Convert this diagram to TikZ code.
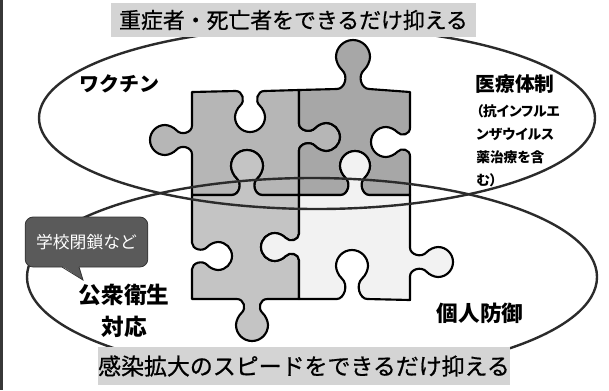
\documentclass[tikz,border=0pt]{standalone}
\usepackage{fontspec}
\newfontfamily\jp{Noto Sans CJK JP}
\newfontfamily\jpheavy[FakeBold=0.7]{Noto Sans CJK JP}
\newfontfamily\jpprop[RawFeature=+palt]{Noto Sans CJK JP}
\definecolor{bandgray}{HTML}{D4D4D4}
\definecolor{ringline}{HTML}{2B2B2B}
\definecolor{pieceTL}{HTML}{B6B6B6}
\definecolor{pieceTR}{HTML}{A7A7A7}
\definecolor{pieceBL}{HTML}{C4C4C4}
\definecolor{pieceBR}{HTML}{F2F2F2}
\definecolor{calloutgray}{HTML}{5A5A5A}

% jigsaw tab on a horizontal edge: centre x, edge y, travel dir (+1 right), bulge (+1 down), head radius, head-centre offset
\newcommand\htab[6]{%
 -- ({#1+(#3)*(-0.95*(#5))},{#2})
 .. controls ({#1+(#3)*(-0.5*(#5))},{#2})
         and ({#1+(#3)*(-0.66*(#5)+0.375*((#6)-0.75*(#5)))},{#2+(#4)*(0.67*((#6)-0.75*(#5)))})
 .. ({#1+(#3)*(-0.66*(#5))},{#2+(#4)*((#6)-0.75*(#5))})
 .. controls ({#1+(#3)*(-0.84*(#5))},{#2+(#4)*((#6)-0.59*(#5))})
         and ({#1+(#3)*(-(#5))},{#2+(#4)*((#6)-0.242*(#5))})
 .. ({#1+(#3)*(-(#5))},{#2+(#4)*(#6)})
 .. controls ({#1+(#3)*(-(#5))},{#2+(#4)*((#6)+0.552*(#5))})
         and ({#1+(#3)*(-0.552*(#5))},{#2+(#4)*((#6)+(#5))})
 .. ({#1},{#2+(#4)*((#6)+(#5))})
 .. controls ({#1+(#3)*(0.552*(#5))},{#2+(#4)*((#6)+(#5))})
         and ({#1+(#3)*(#5)},{#2+(#4)*((#6)+0.552*(#5))})
 .. ({#1+(#3)*(#5)},{#2+(#4)*(#6)})
 .. controls ({#1+(#3)*(#5)},{#2+(#4)*((#6)-0.242*(#5))})
         and ({#1+(#3)*(0.84*(#5))},{#2+(#4)*((#6)-0.59*(#5))})
 .. ({#1+(#3)*(0.66*(#5))},{#2+(#4)*((#6)-0.75*(#5))})
 .. controls ({#1+(#3)*(0.66*(#5)-0.375*((#6)-0.75*(#5)))},{#2+(#4)*(0.67*((#6)-0.75*(#5)))})
         and ({#1+(#3)*(0.5*(#5))},{#2})
 .. ({#1+(#3)*(0.95*(#5))},{#2})
}
% the same tab on a vertical edge: edge x, centre y, travel dir (+1 down), bulge (+1 right), radius, offset
\newcommand\vtab[6]{%
 -- ({#1},{#2+(#3)*(-0.95*(#5))})
 .. controls ({#1},{#2+(#3)*(-0.5*(#5))})
         and ({#1+(#4)*(0.67*((#6)-0.75*(#5)))},{#2+(#3)*(-0.66*(#5)+0.375*((#6)-0.75*(#5)))})
 .. ({#1+(#4)*((#6)-0.75*(#5))},{#2+(#3)*(-0.66*(#5))})
 .. controls ({#1+(#4)*((#6)-0.59*(#5))},{#2+(#3)*(-0.84*(#5))})
         and ({#1+(#4)*((#6)-0.242*(#5))},{#2+(#3)*(-(#5))})
 .. ({#1+(#4)*(#6)},{#2+(#3)*(-(#5))})
 .. controls ({#1+(#4)*((#6)+0.552*(#5))},{#2+(#3)*(-(#5))})
         and ({#1+(#4)*((#6)+(#5))},{#2+(#3)*(-0.552*(#5))})
 .. ({#1+(#4)*((#6)+(#5))},{#2})
 .. controls ({#1+(#4)*((#6)+(#5))},{#2+(#3)*(0.552*(#5))})
         and ({#1+(#4)*((#6)+0.552*(#5))},{#2+(#3)*(#5)})
 .. ({#1+(#4)*(#6)},{#2+(#3)*(#5)})
 .. controls ({#1+(#4)*((#6)-0.242*(#5))},{#2+(#3)*(#5)})
         and ({#1+(#4)*((#6)-0.59*(#5))},{#2+(#3)*(0.84*(#5))})
 .. ({#1+(#4)*((#6)-0.75*(#5))},{#2+(#3)*(0.66*(#5))})
 .. controls ({#1+(#4)*(0.67*((#6)-0.75*(#5)))},{#2+(#3)*(0.66*(#5)-0.375*((#6)-0.75*(#5)))})
         and ({#1},{#2+(#3)*(0.5*(#5))})
 .. ({#1},{#2+(#3)*(0.95*(#5))})
}

\begin{document}
\begin{tikzpicture}[x=0.75pt,y=-0.75pt,
  piece/.style={draw=black, line width=1.6pt, line join=round},
  ring/.style={draw=ringline, line width=1.8pt},
  band/.style={fill=bandgray, inner sep=0pt},
  heading/.style={inner sep=0pt, font=\jp\bfseries\fontsize{15}{22}\selectfont},
  bigheading/.style={inner sep=0pt, align=center, font=\jp\bfseries\fontsize{17}{23.5}\selectfont},
  note/.style={inner sep=0pt, align=left, font=\jpprop\bfseries\fontsize{10.3}{17.3}\selectfont},
  calloutbox/.style={fill=calloutgray, draw=black!80, line width=0.6pt, rounded corners=6pt,
    minimum width=92pt, minimum height=37.5pt, text=white, inner sep=0pt,
    font=\jp\fontsize{12.6}{14}\selectfont}]
\useasboundingbox (0,0) rectangle (609,390);
\fill[white] (0,0) rectangle (609,390);
\fill[black!78] (0,0) rectangle (3,390);

% four interlocking puzzle pieces
\path[piece, fill=pieceTL] (192,92)
  \htab{250}{91}{1}{1}{15}{26} -- (299,90)
  \vtab{299}{137}{1}{1}{14}{27} -- (299,195)
  \htab{247}{195}{-1}{-1}{16}{29} -- (192,195)
  \vtab{192}{140}{-1}{-1}{15}{27} -- cycle;
\path[piece, fill=pieceTR] (299,90)
  \htab{353}{89}{1}{-1}{17}{32} -- (410,92)
  \vtab{410}{142}{1}{-1}{15}{24} -- (410,195)
  \htab{355}{195}{-1}{-1}{15}{29} -- (299,195)
  \vtab{299}{137}{-1}{1}{14}{27} -- cycle;
\path[piece, fill=pieceBL] (192,195)
  \htab{247}{195}{1}{-1}{16}{29} -- (299,195)
  \vtab{299}{247}{1}{-1}{14}{24} -- (299,299)
  \htab{252}{299}{-1}{1}{16}{26} -- (192,299)
  \vtab{192}{256}{-1}{1}{14}{26} -- cycle;
\path[piece, fill=pieceBR] (299,195)
  \htab{355}{195}{1}{-1}{15}{29} -- (410,195)
  \vtab{410}{262}{1}{1}{15}{28} -- (410,300)
  \htab{352}{299}{-1}{-1}{16}{33} -- (299,299)
  \vtab{299}{247}{-1}{-1}{14}{24} -- cycle;

% the two overlapping rings
\draw[ring] (317,118) ellipse [x radius=278, y radius=91];
\draw[ring] (312,277) ellipse [x radius=285, y radius=99];

% captions on grey bands
\node[band, minimum width=273.75pt, minimum height=25.5pt,
  font=\jpheavy\fontsize{16.4}{18}\selectfont] (top) at (293.5,20) {重症者・死亡者をできるだけ抑える};
\node[band, minimum width=301.5pt, minimum height=28.5pt,
  font=\jpheavy\fontsize{17.2}{19}\selectfont] (bottom) at (304,366) {感染拡大のスピードをできるだけ抑える};

% labels
\node[heading] (vaccine) at (119,84) {ワクチン};
\node[heading, font=\jp\bfseries\fontsize{14.8}{22}\selectfont] (medical) at (515,84) {医療体制};
\node[note, anchor=north west] (mednote) at (476,104) {（抗インフルエ\\ンザウイルス\\薬治療を含\\む）};
\node[bigheading] (public) at (124,311) {公衆衛生\\対応};
\node[heading, font=\jp\bfseries\fontsize{16.2}{22}\selectfont] (personal) at (480,313) {個人防御};

% speech bubble
\node[calloutbox] (school) at (86.5,242) {学校閉鎖など};
\coordinate (tip) at (83,280);
\fill[calloutgray] (62,266) -- (tip) -- (79,266) -- cycle;
\draw[black!80, line width=0.6pt] (62,267) -- (tip) -- (79,267);
\end{tikzpicture}
\end{document}
